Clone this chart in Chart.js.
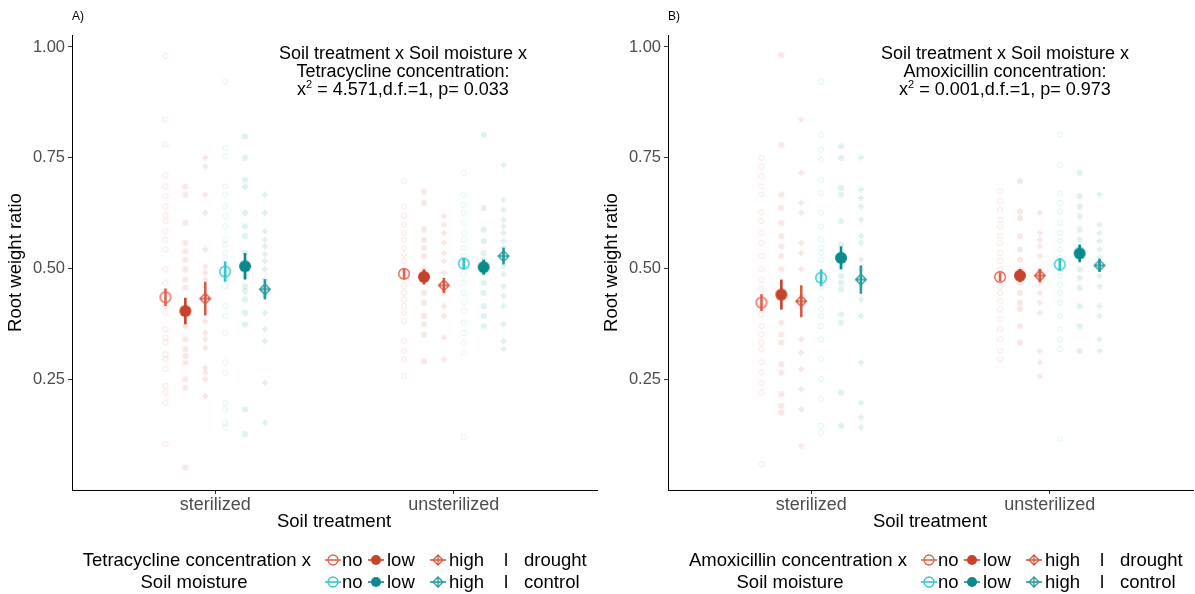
<!DOCTYPE html>
<html>
<head>
<meta charset="utf-8">
<script src="https://cdn.jsdelivr.net/npm/chart.js@4"></script>
<style>
  body { margin: 0; background: #fff; font-family: "Liberation Sans", Arial, sans-serif; }
  #page { position: relative; width: 1195px; height: 594px; overflow: hidden; }
  .panel { position: absolute; top: 0; width: 604px; height: 594px; }
  .panel canvas { position: absolute; left: 0; top: 0; }
  .txt { position: absolute; white-space: nowrap; color: #000; }
  .tag { font-size: 12px; top: 9px; left: 72px; }
  .note { font-size: 18px; line-height: 18px; text-align: center; width: 300px; top: 44px; }
  .xtitle { font-size: 18.5px; top: 510px; width: 200px; text-align: center; }
  .leg { font-size: 18.5px; line-height: 21px; }
</style>
</head>
<body>
<div id="page">
  <div class="panel" id="panelA" style="left:0">
    <canvas id="chartA" width="604" height="594"></canvas>
    <div class="txt tag">A)</div>
    <div class="txt note" style="left:253px">Soil treatment x Soil moisture x<br>Tetracycline concentration:<br>x<sup style="font-size:11px;line-height:0">2</sup> = 4.571,d.f.=1, p= 0.033</div>
    <div class="txt xtitle" style="left:234px">Soil treatment</div>
  </div>
  <div class="panel" id="panelB" style="left:596px">
    <canvas id="chartB" width="604" height="594"></canvas>
    <div class="txt tag">B)</div>
    <div class="txt note" style="left:259px">Soil treatment x Soil moisture x<br>Amoxicillin concentration:<br>x<sup style="font-size:11px;line-height:0">2</sup> = 0.001,d.f.=1, p= 0.973</div>
    <div class="txt xtitle" style="left:234px">Soil treatment</div>
  </div>
</div>
<script>
// categories and ticks
const soilTreatments = ['sterilized', 'unsterilized'];
const concentrations = ['no', 'low', 'high'];
const moistures = ['drought', 'control'];
const yTicks = [0.25, 0.5, 0.75, 1.0];

// A) tetracycline: group means and standard errors
// order: no/drought, low/drought, high/drought, no/control, low/control, high/control
const tetraMeanSterilized = [0.435, 0.404, 0.432, 0.493, 0.505, 0.453];
const tetraSeSterilized = [0.02, 0.03, 0.038, 0.023, 0.03, 0.023];
const tetraMeanUnsterilized = [0.488, 0.481, 0.462, 0.511, 0.503, 0.528];
const tetraSeUnsterilized = [0.012, 0.017, 0.017, 0.013, 0.017, 0.019];

// B) amoxicillin: group means and standard errors
const amoxMeanSterilized = [0.423, 0.441, 0.426, 0.479, 0.524, 0.475];
const amoxSeSterilized = [0.019, 0.034, 0.036, 0.019, 0.026, 0.032];
const amoxMeanUnsterilized = [0.481, 0.484, 0.484, 0.509, 0.534, 0.507];
const amoxSeUnsterilized = [0.01, 0.015, 0.015, 0.015, 0.02, 0.015];

// raw observations (faint points)
const tetraRawSterilized = [
  [0.98, 0.836, 0.78, 0.71, 0.685, 0.663, 0.64, 0.62, 0.607, 0.584, 0.565, 0.543, 0.498, 0.468, 0.415, 0.4, 0.363, 0.344, 0.333, 0.306, 0.295, 0.273, 0.235, 0.22, 0.197, 0.104],
  [0.685, 0.667, 0.603, 0.558, 0.539, 0.52, 0.498, 0.475, 0.457, 0.37, 0.34, 0.318, 0.303, 0.288, 0.25, 0.231, 0.051],
  [0.75, 0.73, 0.667, 0.626, 0.543, 0.505, 0.49, 0.475, 0.381, 0.355, 0.34, 0.321, 0.276, 0.265, 0.25, 0.212],
  [0.922, 0.772, 0.753, 0.685, 0.667, 0.64, 0.618, 0.595, 0.565, 0.554, 0.535, 0.52, 0.49, 0.475, 0.46, 0.415, 0.393, 0.355, 0.288, 0.265, 0.197, 0.182, 0.152, 0.141],
  [0.798, 0.75, 0.7, 0.685, 0.626, 0.595, 0.573, 0.535, 0.505, 0.483, 0.46, 0.449, 0.43, 0.4, 0.374, 0.182, 0.126],
  [0.667, 0.626, 0.584, 0.565, 0.55, 0.532, 0.517, 0.498, 0.475, 0.457, 0.438, 0.4, 0.363, 0.336, 0.242, 0.152]
];
const tetraRawUnsterilized = [
  [0.697, 0.64, 0.618, 0.599, 0.58, 0.565, 0.547, 0.532, 0.517, 0.49, 0.475, 0.46, 0.445, 0.43, 0.415, 0.4, 0.381, 0.336, 0.314, 0.295, 0.257],
  [0.674, 0.648, 0.588, 0.565, 0.547, 0.528, 0.498, 0.475, 0.445, 0.423, 0.393, 0.374, 0.351, 0.291],
  [0.618, 0.599, 0.58, 0.558, 0.535, 0.517, 0.49, 0.445, 0.415, 0.393, 0.344, 0.295],
  [0.716, 0.667, 0.644, 0.626, 0.603, 0.58, 0.565, 0.547, 0.528, 0.505, 0.487, 0.468, 0.445, 0.423, 0.404, 0.378, 0.355, 0.333, 0.31, 0.119],
  [0.802, 0.637, 0.588, 0.562, 0.535, 0.52, 0.49, 0.468, 0.445, 0.415, 0.393, 0.37],
  [0.734, 0.655, 0.633, 0.61, 0.595, 0.58, 0.562, 0.547, 0.505, 0.487, 0.46, 0.438, 0.415, 0.374, 0.336, 0.318]
];
const amoxRawSterilized = [
  [0.75, 0.73, 0.708, 0.685, 0.667, 0.626, 0.607, 0.58, 0.558, 0.528, 0.498, 0.475, 0.453, 0.415, 0.396, 0.37, 0.351, 0.333, 0.318, 0.288, 0.265, 0.242, 0.22, 0.058],
  [0.982, 0.779, 0.667, 0.637, 0.603, 0.573, 0.55, 0.528, 0.498, 0.378, 0.351, 0.333, 0.284, 0.265, 0.216, 0.19, 0.175],
  [0.836, 0.716, 0.648, 0.626, 0.558, 0.535, 0.498, 0.438, 0.34, 0.31, 0.273, 0.227, 0.182, 0.1],
  [0.922, 0.802, 0.768, 0.746, 0.7, 0.67, 0.626, 0.595, 0.565, 0.547, 0.535, 0.52, 0.475, 0.457, 0.43, 0.408, 0.393, 0.37, 0.34, 0.295, 0.25, 0.205, 0.145, 0.13],
  [0.776, 0.75, 0.682, 0.667, 0.607, 0.554, 0.505, 0.483, 0.468, 0.453, 0.396, 0.378, 0.22, 0.145],
  [0.75, 0.678, 0.659, 0.64, 0.61, 0.573, 0.558, 0.52, 0.498, 0.46, 0.43, 0.393, 0.288, 0.197, 0.164, 0.141]
];
const amoxRawUnsterilized = [
  [0.674, 0.652, 0.633, 0.61, 0.595, 0.573, 0.558, 0.535, 0.517, 0.498, 0.479, 0.46, 0.445, 0.426, 0.408, 0.385, 0.363, 0.34, 0.314, 0.295],
  [0.697, 0.629, 0.614, 0.573, 0.543, 0.52, 0.498, 0.468, 0.445, 0.423, 0.408, 0.37, 0.333],
  [0.626, 0.58, 0.565, 0.55, 0.528, 0.498, 0.468, 0.445, 0.423, 0.4, 0.314, 0.288, 0.257],
  [0.802, 0.734, 0.67, 0.648, 0.629, 0.603, 0.58, 0.562, 0.543, 0.524, 0.502, 0.483, 0.464, 0.445, 0.423, 0.393, 0.363, 0.34, 0.318, 0.115],
  [0.716, 0.663, 0.64, 0.618, 0.588, 0.565, 0.547, 0.498, 0.479, 0.457, 0.415, 0.37, 0.314],
  [0.667, 0.599, 0.58, 0.562, 0.543, 0.524, 0.505, 0.483, 0.46, 0.415, 0.393, 0.34, 0.314]
];

const FONT = '"Liberation Sans", Arial, sans-serif';
const groupColors = ['#e0634d', '#c8432b', '#d45a43', '#35c5d1', '#0a8a8c', '#2b9a9e'];
const groupShapes = ['open', 'filled', 'diamond', 'open', 'filled', 'diamond'];
const rawAlpha = [0.17, 0.12, 0.16, 0.17, 0.12, 0.16];
const dodgeWidth = 0.5;

function hexA(hex, a) {
  const n = parseInt(hex.slice(1), 16);
  return 'rgba(' + (n >> 16) + ',' + ((n >> 8) & 255) + ',' + (n & 255) + ',' + a + ')';
}

function marker(shape, color, r, lw) {
  const s = Math.ceil(2 * r + 2 * lw + 2);
  const c = document.createElement('canvas');
  c.width = s; c.height = s;
  const g = c.getContext('2d');
  const m = s / 2;
  g.strokeStyle = color; g.fillStyle = color; g.lineWidth = lw;
  if (shape === 'open') {
    g.beginPath(); g.arc(m, m, r, 0, Math.PI * 2); g.stroke();
  } else if (shape === 'filled') {
    g.beginPath(); g.arc(m, m, r + lw / 2, 0, Math.PI * 2); g.fill();
  } else {
    g.beginPath();
    g.moveTo(m, m - r); g.lineTo(m + r, m); g.lineTo(m, m + r); g.lineTo(m - r, m); g.closePath();
    g.moveTo(m - r, m); g.lineTo(m + r, m);
    g.moveTo(m, m - r); g.lineTo(m, m + r);
    g.stroke();
  }
  return c;
}

const errorBars = {
  id: 'errorBars',
  beforeDatasetDraw(chart, args) {
    const ds = chart.data.datasets[args.index];
    if (!ds.se) return;
    const { ctx, scales: { x, y } } = chart;
    ctx.save();
    ctx.strokeStyle = ds.barColor;
    ctx.lineWidth = 2.6;
    ds.data.forEach((p, i) => {
      const px = x.getPixelForValue(p.x);
      ctx.beginPath();
      ctx.moveTo(px, y.getPixelForValue(p.y - ds.se[i]));
      ctx.lineTo(px, y.getPixelForValue(p.y + ds.se[i]));
      ctx.stroke();
    });
    ctx.restore();
  }
};

function dodge(k) {
  return (k - 2.5) * dodgeWidth / 6;
}

function makePanel(id, meanS, seS, meanU, seU, rawS, rawU) {
  const datasets = [];
  for (let k = 0; k < 6; k++) {
    const pts = [];
    rawS[k].forEach(v => pts.push({ x: 1 + dodge(k), y: v }));
    rawU[k].forEach(v => pts.push({ x: 2 + dodge(k), y: v }));
    datasets.push({
      data: pts,
      pointStyle: marker(groupShapes[k], hexA(groupColors[k], rawAlpha[k]), 2.6, 1),
      pointRadius: 3
    });
  }
  for (let k = 0; k < 6; k++) {
    datasets.push({
      data: [{ x: 1 + dodge(k), y: meanS[k] }, { x: 2 + dodge(k), y: meanU[k] }],
      se: [seS[k], seU[k]],
      barColor: groupColors[k],
      pointStyle: marker(groupShapes[k], groupColors[k], 5.3, 1.4),
      pointRadius: 6
    });
  }
  const axisGrid = { drawOnChartArea: false, drawTicks: true, tickLength: 4, color: '#333', lineWidth: 1 };
  const axisBorder = { display: true, color: '#000', width: 1 };
  return new Chart(document.getElementById(id), {
    type: 'scatter',
    data: { datasets },
    options: {
      responsive: false,
      animation: false,
      events: [],
      layout: { padding: { top: 35, right: 0, bottom: 0, left: 0 } },
      plugins: { legend: { display: false }, tooltip: { enabled: false } },
      scales: {
        x: {
          type: 'linear', min: 0.4, max: 2.6,
          afterBuildTicks: s => { s.ticks = soilTreatments.map((t, i) => ({ value: i + 1 })); },
          afterFit: s => { s.height = 104; },
          ticks: { callback: v => soilTreatments[v - 1], color: '#4d4d4d', font: { size: 18, family: FONT }, padding: 0 },
          grid: axisGrid, border: axisBorder
        },
        y: {
          min: 0, max: 1.027,
          afterBuildTicks: s => { s.ticks = yTicks.map(v => ({ value: v })); },
          afterFit: s => { s.width = 72; },
          ticks: { callback: v => v.toFixed(2), color: '#4d4d4d', font: { size: 16.5, family: FONT }, padding: 3 },
          grid: axisGrid, border: axisBorder,
          title: { display: true, text: 'Root weight ratio', color: '#000', font: { size: 18.5, family: FONT }, padding: { top: 5, bottom: 0 } }
        }
      }
    },
    plugins: [errorBars]
  });
}

makePanel('chartA', tetraMeanSterilized, tetraSeSterilized, tetraMeanUnsterilized, tetraSeUnsterilized, tetraRawSterilized, tetraRawUnsterilized);
makePanel('chartB', amoxMeanSterilized, amoxSeSterilized, amoxMeanUnsterilized, amoxSeUnsterilized, amoxRawSterilized, amoxRawUnsterilized);

// legends (HTML)
function legendKey(shape, color) {
  const c = document.createElement('canvas');
  c.width = 18; c.height = 14;
  const g = c.getContext('2d');
  g.strokeStyle = color; g.fillStyle = color; g.lineWidth = 1.3;
  const r = 5, mx = 9, my = 7;
  if (shape === 'open') { g.beginPath(); g.arc(mx, my, r, 0, Math.PI * 2); g.stroke(); }
  else if (shape === 'filled') { g.beginPath(); g.arc(mx, my, r, 0, Math.PI * 2); g.fill(); }
  else {
    g.beginPath();
    g.moveTo(mx, my - r); g.lineTo(mx + r, my); g.lineTo(mx, my + r); g.lineTo(mx - r, my); g.closePath();
    g.moveTo(mx, my - r); g.lineTo(mx, my + r);
    g.stroke();
  }
  g.beginPath(); g.moveTo(1, my); g.lineTo(17, my); g.lineWidth = 1.6; g.stroke();
  c.style.position = 'absolute';
  return c;
}

function addText(panel, text, left, top, extra) {
  const d = document.createElement('div');
  d.className = 'txt leg';
  d.style.left = left + 'px'; d.style.top = top + 'px';
  if (extra) Object.assign(d.style, extra);
  d.textContent = text;
  panel.appendChild(d);
}

function buildLegend(panelId, titleTop) {
  const panel = document.getElementById(panelId);
  const rowsY = [549, 571];
  const keyX = [324, 367, 429];
  const textX = [342, 387, 449];
  addText(panel, titleTop, 0, rowsY[0], { left: 'auto', right: (604 - 311) + 'px' });
  addText(panel, 'Soil moisture', 134, rowsY[1], { width: '120px', textAlign: 'center' });
  moistures.forEach((m, row) => {
    concentrations.forEach((c, j) => {
      const k = row * 3 + j;
      const key = legendKey(groupShapes[k], groupColors[k]);
      key.style.left = keyX[j] + 'px'; key.style.top = (rowsY[row] + 4) + 'px';
      panel.appendChild(key);
      addText(panel, c, textX[j], rowsY[row]);
    });
    addText(panel, 'l', 504, rowsY[row]);
    addText(panel, m, 524, rowsY[row]);
  });
}

buildLegend('panelA', 'Tetracycline concentration x');
buildLegend('panelB', 'Amoxicillin concentration x');
</script>
</body>
</html>
